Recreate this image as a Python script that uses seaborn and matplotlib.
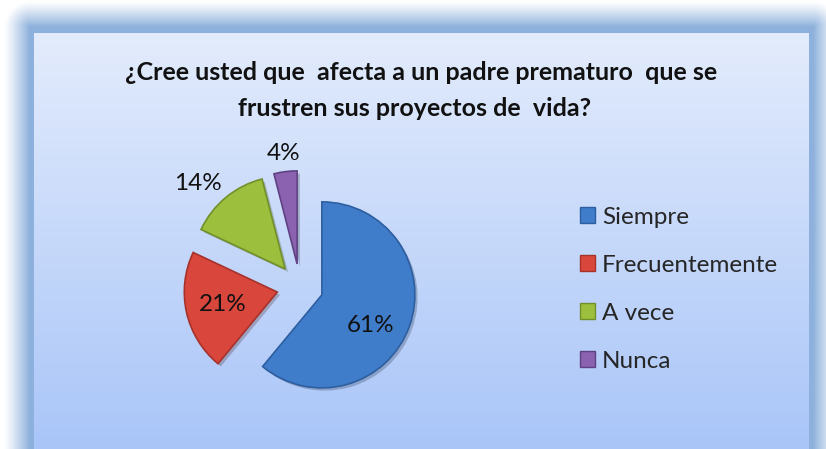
import numpy as np
import matplotlib
matplotlib.use("Agg")
import matplotlib.pyplot as plt
import matplotlib.patheffects as pe
from matplotlib.patches import Patch
import seaborn as sns

# ---- data ----
categories = ["Siempre", "Frecuentemente", "A vece", "Nunca"]
values = [61, 21, 14, 4]
title_lines = ["¿Cree usted que  afecta a un padre prematuro  que se",
               "frustren sus proyectos de  vida?"]

colors = ["#3F7DCB", "#D9463C", "#9CC03E", "#8A62B0"]
edge_colors = ["#2D5E9F", "#A5322B", "#72902A", "#5F4283"]

sns.set_theme(style="white")
plt.rcParams['font.family'] = ['Lato', 'DejaVu Sans']

W, H = 826, 449
fig = plt.figure(figsize=(W / 100, H / 100), dpi=100)

# ---- background (glow frame + gradient panel) ----
bg = fig.add_axes([0, 0, 1, 1], zorder=0)
yy, xx = np.mgrid[0:H, 0:W] + 0.5
dx = np.maximum(np.maximum(30 - xx, xx - 813), 0)
dy = np.maximum(27 - yy, 0)
d = np.hypot(dx, dy)
a = np.clip(1 - d / 26.0, 0, 1) ** 1.2
glow = np.array([0x8D, 0xB0, 0xDC]) / 255.0
img = np.ones((H, W, 3)) * (1 - a[..., None]) + glow * a[..., None]
top = np.array([0xE3, 0xEC, 0xFC]) / 255.0
bot = np.array([0xA9, 0xC5, 0xF8]) / 255.0
t = np.clip((yy - 33) / (H - 33), 0, 1)[..., None]
panel = top * (1 - t) + bot * t
mask = (xx >= 34) & (xx < 809) & (yy >= 33)
img[mask] = panel[mask]
bg.imshow(img, extent=[0, W, H, 0], aspect='auto', interpolation='bilinear')
bg.set_xlim(0, W)
bg.set_ylim(H, 0)
bg.axis('off')

# ---- title ----
fig.text(421 / W, 1 - 73 / H, title_lines[0], ha='center', va='center',
         fontsize=18, fontweight='bold', color='#111111', zorder=3)
fig.text(415 / W, 1 - 108 / H, title_lines[1], ha='center', va='center',
         fontsize=18, fontweight='bold', color='#111111', zorder=3)

# ---- pie ----
ax = fig.add_axes([150 / W, 12 / H, 300 / W, 300 / H], zorder=2)
ax.patch.set_alpha(0)
wedges, texts, autotexts = ax.pie(
    values, colors=colors, startangle=90, counterclock=False,
    explode=[0.25] * len(values), autopct='%1.0f%%', pctdistance=0.6,
    radius=1.0, textprops=dict(fontsize=17.5, color='#111111'))
for w, ec in zip(wedges, edge_colors):
    w.set_edgecolor(ec)
    w.set_linewidth(1.2)
    w.set_path_effects([pe.SimplePatchShadow(offset=(2, -2), alpha=0.25), pe.Normal()])

# label placement: (distance from wedge apex, angular offset from mid-angle)
label_place = {0: (0.62, -12), 1: (0.6, 0), 2: (1.32, 6), 3: (1.2, 0)}
for i, (dist, off) in label_place.items():
    w = wedges[i]
    mid = np.deg2rad((w.theta1 + w.theta2) / 2 + off)
    cx, cy = w.center
    autotexts[i].set_position((cx + dist * np.cos(mid), cy + dist * np.sin(mid)))

lim = 150 / 93.0
ax.set_xlim(-lim, lim)
ax.set_ylim(-lim, lim)
ax.set_aspect('auto')
ax.axis('off')

# ---- legend ----
handles = [Patch(facecolor=c, edgecolor=e, linewidth=1) for c, e in zip(colors, edge_colors)]
fig.legend(handles, categories, loc='upper left', bbox_to_anchor=(570 / W, 1 - 197 / H),
           frameon=False, fontsize=17.5, handlelength=0.62, handleheight=0.62,
           handletextpad=0.29, labelspacing=1.11, borderaxespad=0)

fig.savefig("out.png", dpi=100)
